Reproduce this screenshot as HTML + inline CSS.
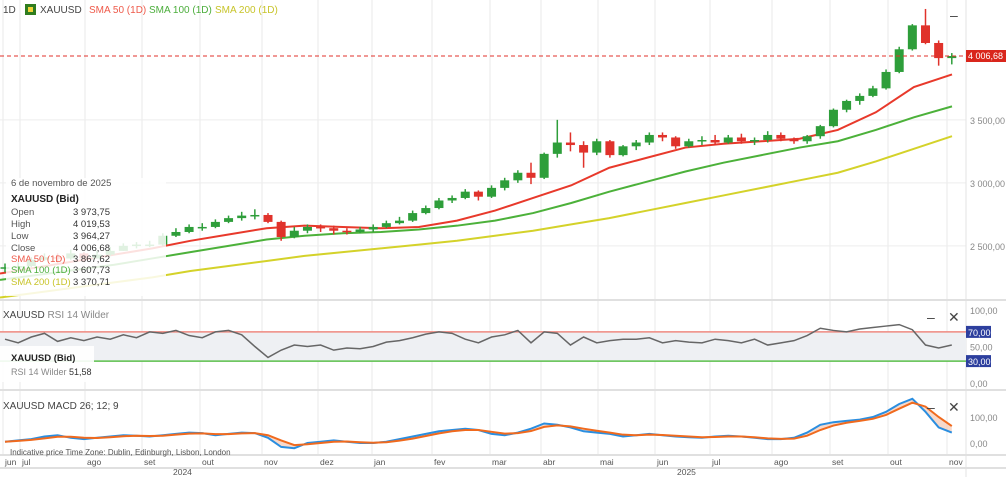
<!DOCTYPE html>
<html><head><meta charset="utf-8"><style>
body{margin:0;background:#fff;font-family:"Liberation Sans",sans-serif;}
svg{display:block}
text{font-family:"Liberation Sans",sans-serif;}
</style></head><body>
<svg id="c" width="1006" height="477"></svg>
<script>
const weeklyClose=[2330,2340,2390,2410,2400,2440,2400,2430,2460,2500,2510,2510,2580,2610,2650,2650,2690,2720,2740,2745,2690,2570,2620,2650,2640,2620,2610,2630,2650,2680,2700,2760,2800,2860,2880,2930,2890,2960,3020,3080,3040,3230,3320,3300,3240,3330,3220,3290,3320,3380,3360,3290,3330,3340,3320,3360,3330,3340,3380,3350,3330,3370,3450,3580,3650,3690,3750,3880,4060,4250,4110,3990,4006.68];
const weeklyHigh=[2360,2370,2410,2440,2440,2470,2450,2460,2490,2520,2530,2540,2600,2640,2670,2680,2710,2740,2770,2790,2760,2700,2650,2670,2670,2660,2640,2650,2670,2700,2730,2780,2820,2880,2900,2950,2940,2980,3040,3100,3160,3240,3500,3400,3330,3350,3340,3300,3340,3400,3400,3370,3350,3370,3380,3380,3390,3360,3410,3400,3360,3380,3460,3590,3660,3710,3770,3900,4080,4260,4380,4130,4030];
const weeklyLow=[2290,2310,2330,2380,2360,2390,2370,2400,2420,2460,2480,2490,2500,2570,2600,2620,2640,2680,2700,2710,2680,2540,2560,2600,2610,2590,2590,2600,2610,2640,2670,2690,2750,2790,2840,2870,2860,2880,2940,3000,2990,3030,3200,3250,3120,3220,3200,3210,3260,3300,3330,3270,3280,3300,3300,3310,3310,3300,3320,3330,3310,3310,3350,3440,3560,3620,3680,3740,3870,4050,4100,3930,3940];
const sma50=[2280,2330,2380,2430,2480,2540,2590,2640,2660,2650,2640,2650,2700,2780,2880,2980,3120,3200,3280,3310,3330,3350,3420,3560,3760,3860];
const sma100=[2230,2270,2310,2350,2400,2450,2500,2550,2580,2600,2610,2630,2660,2700,2760,2840,2930,3010,3090,3160,3220,3280,3330,3420,3520,3607];
const sma200=[2090,2130,2170,2210,2250,2300,2340,2380,2420,2450,2480,2510,2540,2580,2620,2670,2720,2780,2840,2900,2960,3020,3080,3170,3270,3370];
const rsi=[60,55,63,68,57,62,58,63,60,66,62,70,68,72,65,62,70,72,66,50,35,45,52,50,52,45,48,47,50,56,58,62,67,70,68,60,55,63,66,72,55,70,68,52,63,55,58,60,60,62,55,58,56,55,60,58,55,60,52,55,58,65,75,72,70,74,76,78,80,73,52,48,52];
const macd=[5,10,15,25,30,20,15,20,25,30,28,25,30,35,40,38,30,35,40,38,20,-15,-20,0,5,10,5,0,0,5,15,25,35,45,50,55,50,35,30,40,55,75,70,60,45,40,35,25,30,35,30,25,22,20,25,28,25,20,15,15,20,40,70,80,85,90,100,120,150,170,120,60,40];
const signal=[5,8,12,18,24,24,20,19,22,26,28,27,28,32,36,37,34,34,37,38,30,10,-8,-5,0,5,6,3,1,3,9,17,27,37,45,50,50,43,36,38,46,62,68,64,55,47,40,32,30,32,31,28,25,22,23,25,25,22,18,16,17,28,50,67,78,85,93,108,132,155,140,100,65];
const months=["jun","jul","ago","set","out","nov","dez","jan","fev","mar","abr","mai","jun","jul","ago","set","out","nov"];
const monthX=[3,20,85,142,200,262,318,372,432,490,541,598,655,710,772,830,888,947];
const priceTicks=[2500,3000,3500];
const priceTickLabels=["2 500,00","3 000,00","3 500,00"];
const rsiTicks=[100,50,0];
const macdTicks=[100,0];

const S=document.getElementById('c');const NS='http://www.w3.org/2000/svg';
function el(t,a,p){const e=document.createElementNS(NS,t);for(const k in a)e.setAttribute(k,a[k]);(p||S).appendChild(e);return e;}
const xW=i=>5+i*13.15;
const xS=i=>i*(952/(sma50.length-1));
const yP=v=>56-(v-4006.68)*0.126;
const yR=v=>383-v*0.73;
const yM=v=>443-v*0.26;

monthX.forEach(x=>{const g=el('line',{x1:x,x2:x,y1:0,y2:455,stroke:'#e8e8e8'});});
priceTicks.forEach((v,i)=>{el('line',{x1:0,x2:966,y1:yP(v),y2:yP(v),stroke:'#eeeeee'});const t=el('text',{x:970,y:yP(v)+4,'font-size':9,fill:'#888'});t.textContent=priceTickLabels[i];});
el('line',{x1:966,x2:966,y1:0,y2:477,stroke:'#e3e3e3'});
[300,390,455,468].forEach(y=>el('line',{x1:0,x2:1006,y1:y,y2:y,stroke:'#e0e0e0','stroke-width':2}));

function poly(arr,xf,yf,col,w,name){const p=el('polyline',{points:arr.map((v,i)=>xf(i)+','+yf(v)).join(' '),fill:'none',stroke:col,'stroke-width':w});return p;}
poly(sma200,xS,yP,'#d4d22a',2,'sma-200-line');
poly(sma100,xS,yP,'#4cb13a',2,'sma-100-line');
poly(sma50,xS,yP,'#e8392b',2,'sma-50-line');
weeklyClose.forEach((c,i)=>{const o=i?weeklyClose[i-1]:c-10;const up=c>=o;const y1=yP(Math.max(o,c)),y2=yP(Math.min(o,c));
const col=up?'#2e9e3a':'#e0322b';
const w=el('line',{x1:xW(i),x2:xW(i),y1:yP(weeklyHigh[i]),y2:yP(weeklyLow[i]),stroke:col,'stroke-width':1.5});

const r=el('rect',{x:xW(i)-4.5,y:y1,width:9,height:Math.max(1.5,y2-y1),fill:col});});
el('line',{x1:0,x2:966,y1:56,y2:56,stroke:'#e0322b','stroke-dasharray':'4,3'});
el('rect',{x:966,y:50,width:40,height:12,fill:'#d9261c'});
let t=el('text',{x:968,y:59,'font-size':9,fill:'#fff'});t.textContent='4 006,68';
el('rect',{x:25,y:4,width:11,height:11,fill:'#2f7d1f'});el('rect',{x:28,y:7,width:5,height:5,fill:'#f2d23a'});
[['1D',3,'#444'],['XAUUSD',40,'#444'],['SMA 50 (1D)',89,'#ee5a4a'],['SMA 100 (1D)',149,'#4cae3c'],['SMA 200 (1D)',215,'#c8c42a']].forEach(a=>{const tt=el('text',{x:a[1],y:13,'font-size':10,fill:a[2]});tt.textContent=a[0];});
let m=el('text',{x:950,y:20,'font-size':14,fill:'#444'});m.textContent='–';
el('rect',{x:6,y:178,width:160,height:118,fill:'#fff','fill-opacity':0.85});
const tip=[['6 de novembro de 2025','',186,'#555'],['XAUUSD (Bid)','',202,'#222'],['Open','3 973,75',215,'#555'],['High','4 019,53',227,'#555'],['Low','3 964,27',239,'#555'],['Close','4 006,68',251,'#555'],['SMA 50 (1D)','3 867,62',262,'#ee5a4a'],['SMA 100 (1D)','3 607,73',273,'#4cae3c'],['SMA 200 (1D)','3 370,71',285,'#c8c42a']];
tip.forEach(r=>{let a=el('text',{x:11,y:r[2],'font-size':r[2]==202?10:9.5,fill:r[3],'font-weight':r[2]==202?'bold':'normal'});a.textContent=r[0];if(r[1]){let b=el('text',{x:73,y:r[2],'font-size':9.5,fill:'#333'});b.textContent=r[1];}});
el('rect',{x:0,y:yR(70),width:966,height:yR(30)-yR(70),fill:'#eef0f3'});
el('line',{x1:0,x2:966,y1:yR(70),y2:yR(70),stroke:'#ef8a80','stroke-width':1.5});
el('line',{x1:0,x2:966,y1:yR(30),y2:yR(30),stroke:'#5cbf4c','stroke-width':1.5});
poly(rsi,xW,yR,'#666',1.5,'rsi-line');
el('rect',{x:0,y:346,width:94,height:36,fill:'#fff','fill-opacity':0.9});
t=el('text',{x:11,y:361,'font-size':9.5,fill:'#222','font-weight':'bold'});t.textContent='XAUUSD (Bid)';
t=el('text',{x:11,y:375,'font-size':9,fill:'#888'});t.textContent='RSI 14 Wilder ';let ts=el('tspan',{fill:'#333'},t);ts.textContent='51,58';
t=el('text',{x:3,y:318,'font-size':10,fill:'#444'});t.textContent='XAUUSD ';ts=el('tspan',{fill:'#888'},t);ts.textContent='RSI 14 Wilder';
rsiTicks.forEach(v=>{let a=el('text',{x:970,y:yR(v)+4,'font-size':9,fill:'#888'});a.textContent=v.toFixed(2).replace('.',',');});
[70,30].forEach(v=>{el('rect',{x:966,y:yR(v)-6,width:25,height:12,fill:'#2d3f9e'});let a=el('text',{x:968,y:yR(v)+4,'font-size':9,fill:'#fff'});a.textContent=v+',00';});
t=el('text',{x:927,y:322,'font-size':14,fill:'#444'});t.textContent='–';
t=el('text',{x:948,y:322,'font-size':14,fill:'#444'});t.textContent='✕';
let fillPts=macd.map((v,i)=>xW(i)+','+yM(v)).concat(signal.map((v,i)=>xW(i)+','+yM(v)).reverse());
el('polygon',{points:fillPts.join(' '),fill:'#f4c9b5','fill-opacity':0.7});
poly(macd,xW,yM,'#2a8ee0',2,'macd-line');
poly(signal,xW,yM,'#f06a1e',2,'signal-line');
t=el('text',{x:3,y:409,'font-size':10,fill:'#444'});t.textContent='XAUUSD MACD 26; 12; 9';
macdTicks.forEach(v=>{let a=el('text',{x:970,y:yM(v)+4,'font-size':9,fill:'#888'});a.textContent=v.toFixed(2).replace('.',',');});
t=el('text',{x:927,y:412,'font-size':14,fill:'#444'});t.textContent='–';
t=el('text',{x:948,y:412,'font-size':14,fill:'#444'});t.textContent='✕';
t=el('text',{x:10,y:455,'font-size':8,fill:'#555'});t.textContent='Indicative price     Time Zone: Dublin, Edinburgh, Lisbon, London';
months.forEach((mn,i)=>{let a=el('text',{x:monthX[i]+2,y:465,'font-size':8.5,fill:'#555'});a.textContent=mn;});
t=el('text',{x:173,y:475,'font-size':8.5,fill:'#555'});t.textContent='2024';
t=el('text',{x:677,y:475,'font-size':8.5,fill:'#555'});t.textContent='2025';
</script></body></html>
